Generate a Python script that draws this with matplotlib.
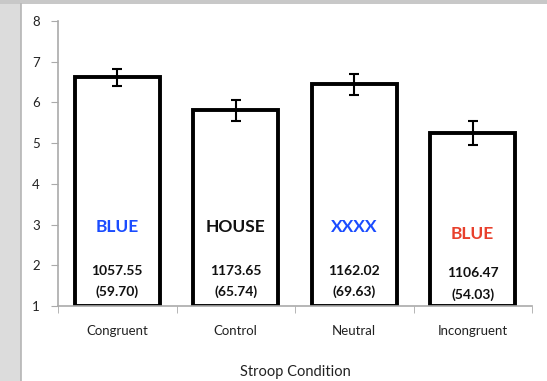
import matplotlib.pyplot as plt
from matplotlib.patches import Rectangle

conditions = ['Congruent', 'Control', 'Neutral', 'Incongruent']
means = [6.62, 5.81, 6.45, 5.25]
errors = [0.21, 0.26, 0.26, 0.30]
words = ['BLUE', 'HOUSE', 'XXXX', 'BLUE']
word_colors = ['#1a4cff', '#111111', '#1a4cff', '#e8402c']
rts = ['1057.55', '1173.65', '1162.02', '1106.47']
sds = ['(59.70)', '(65.74)', '(69.63)', '(54.03)']

fig = plt.figure(figsize=(5.47, 3.81), dpi=100)
fig.patch.set_facecolor('white')

# slide-like gray edges
fig.patches.append(Rectangle((0, 0), 21 / 547, 1, transform=fig.transFigure,
                             facecolor='#dcdcdc', edgecolor='none', zorder=0))
fig.patches.append(Rectangle((0, 1 - 4 / 381), 1, 4 / 381, transform=fig.transFigure,
                             facecolor='#c8c8c8', edgecolor='none', zorder=0))
fig.add_artist(plt.Line2D([21 / 547, 21 / 547], [0, 1 - 4 / 381], transform=fig.transFigure,
                          color='#b5b5b5', lw=1.2))

ax = fig.add_axes([58 / 547, 75 / 381, 474 / 547, 285 / 381])
x = list(range(len(conditions)))
ax.bar(x, [m - 1 for m in means], bottom=1, width=0.72, color='white',
       edgecolor='black', linewidth=2.8, zorder=2)
ax.errorbar(x, means, yerr=errors, fmt='none', ecolor='black', elinewidth=1.5,
            capsize=3.5, capthick=1.5, zorder=3)

for i in x:
    wy = 2.93 if i < 3 else 2.77
    ax.text(i, wy, words[i], ha='center', va='center', fontsize=12.5,
            fontweight='bold', color=word_colors[i], family='Lato', zorder=4)
    ny = 1.86 if i < 3 else 1.81
    ax.text(i, ny, rts[i], ha='center', va='center', fontsize=10,
            fontweight='bold', color='#111111', family='Lato', zorder=4)
    ax.text(i, ny - 0.52, sds[i], ha='center', va='center', fontsize=10,
            fontweight='bold', color='#111111', family='Lato', zorder=4)

ax.set_xlim(-0.5, 3.5)
ax.set_ylim(1, 8)
ax.set_yticks(range(1, 9))
ax.set_xticks(x)
ax.set_xticklabels(conditions, family='Lato', fontsize=9.5, color='#222222')
ax.set_xticks([-0.5, 0.5, 1.5, 2.5, 3.5], minor=True)
ax.tick_params(axis='x', which='major', length=0, pad=14)
ax.tick_params(axis='x', which='minor', length=5, color='#aaaaaa', direction='out')
ax.tick_params(axis='y', length=5, color='#aaaaaa', labelsize=9.5, labelcolor='#222222', pad=8)
for lab in ax.get_yticklabels():
    lab.set_family('Lato')
for s in ['top', 'right']:
    ax.spines[s].set_visible(False)
for s in ['left', 'bottom']:
    ax.spines[s].set_color('#aaaaaa')
    ax.spines[s].set_linewidth(1.2)
ax.set_xlabel('Stroop Condition', family='Lato', fontsize=10.5, color='#222222', labelpad=20)

fig.savefig('out.png', dpi=100)
